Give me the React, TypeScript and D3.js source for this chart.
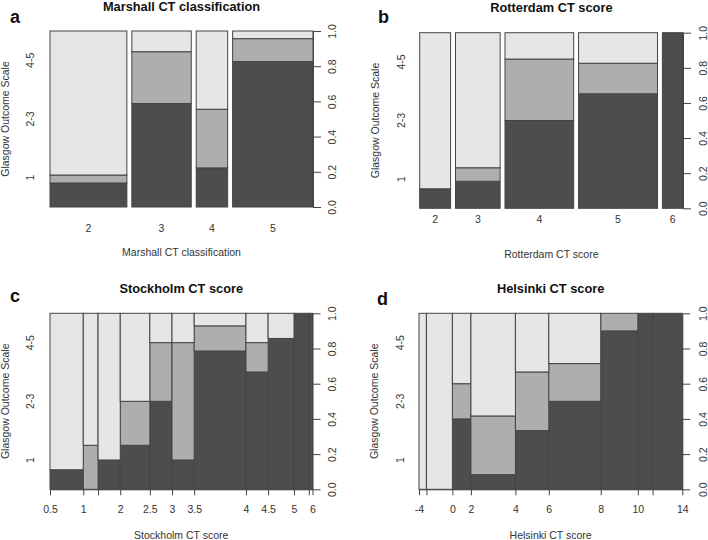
import React, { useEffect, useRef } from "react";
import * as d3 from "d3";

// Glasgow Outcome Scale groups, bottom to top
const gosLevels = ["1", "2-3", "4-5"];
const gosColors = ["#4d4d4d", "#aeaeae", "#e6e6e6"];
const propTicks = [0, 0.2, 0.4, 0.6, 0.8, 1];

// a: Marshall CT classification (factor)
const marshallClasses = ["2", "3", "4", "5"];
const marshallGos1 = [3, 10, 2, 19];
const marshallGos23 = [1, 5, 3, 3];
const marshallGos45 = [18, 2, 4, 1];

// b: Rotterdam CT score (factor)
const rotterdamScores = ["2", "3", "4", "5", "6"];
const rotterdamGos1 = [1, 2, 10, 15, 6];
const rotterdamGos23 = [0, 1, 7, 4, 0];
const rotterdamGos45 = [8, 10, 3, 4, 0];

// c: Stockholm CT score (numeric, binned)
const stockholmBreaks = ["0.5", "1", "", "2", "2.5", "3", "3.5", "4", "4.5", "5", "", "6"];
const stockholmGos1 = [1, 0, 1, 2, 3, 1, 11, 4, 6, 4, 1];
const stockholmGos23 = [0, 1, 0, 2, 2, 4, 2, 1, 0, 0, 0];
const stockholmGos45 = [8, 3, 5, 4, 1, 1, 1, 1, 1, 0, 0];

// d: Helsinki CT score (numeric, binned)
const helsinkiBreaks = ["-4", "", "0", "2", "4", "6", "8", "10", "", "14"];
const helsinkiGos1 = [0, 0, 2, 1, 3, 7, 9, 4, 8];
const helsinkiGos23 = [0, 0, 1, 4, 3, 3, 1, 0, 0];
const helsinkiGos45 = [2, 7, 2, 7, 3, 4, 0, 0, 0];

const FONT = "'Liberation Sans', Arial, Helvetica, sans-serif";
const TEXT = "#333";
const LINE = "#444";

const panels = [
  {
    letter: "a",
    title: "Marshall CT classification",
    xlab: "Marshall CT classification",
    factor: true,
    labels: marshallClasses,
    g1: marshallGos1,
    g23: marshallGos23,
    g45: marshallGos45,
    box: { x0: 50, x1: 313, y0: 31, y1: 207 },
    letterPos: [10, 22.7],
    titleY: 10.5,
    xTickY: 231.5,
    xlabY: 255.7,
    leftLabX: 30.7,
    ylabX: 5,
    rightLabOff: 19,
  },
  {
    letter: "b",
    title: "Rotterdam CT score",
    xlab: "Rotterdam CT score",
    factor: true,
    labels: rotterdamScores,
    g1: rotterdamGos1,
    g23: rotterdamGos23,
    g45: rotterdamGos45,
    box: { x0: 419.7, x1: 683, y0: 32.7, y1: 208.3 },
    letterPos: [378, 23.3],
    titleY: 11.5,
    xTickY: 222.7,
    xlabY: 258,
    leftLabX: 401.3,
    ylabX: 375.7,
    rightLabOff: 20,
  },
  {
    letter: "c",
    title: "Stockholm CT score",
    xlab: "Stockholm CT score",
    factor: false,
    labels: stockholmBreaks,
    g1: stockholmGos1,
    g23: stockholmGos23,
    g45: stockholmGos45,
    box: { x0: 50, x1: 312.5, y0: 313.3, y1: 489.3 },
    letterPos: [10, 301.7],
    titleY: 293,
    xTickY: 512.7,
    xlabY: 538.5,
    leftLabX: 30.7,
    ylabX: 5,
    rightLabOff: 20,
  },
  {
    letter: "d",
    title: "Helsinki CT score",
    xlab: "Helsinki CT score",
    factor: false,
    labels: helsinkiBreaks,
    g1: helsinkiGos1,
    g23: helsinkiGos23,
    g45: helsinkiGos45,
    box: { x0: 419, x1: 682.3, y0: 313.3, y1: 489.3 },
    letterPos: [377, 305],
    titleY: 293,
    xTickY: 512.7,
    xlabY: 538.5,
    leftLabX: 400.7,
    ylabX: 374.7,
    rightLabOff: 21,
  },
];

function drawPanel(svg: any, p: any) {
  const g = svg.append("g");
  const rows = p.g1.map((_: number, i: number) => ({
    "1": p.g1[i],
    "2-3": p.g23[i],
    "4-5": p.g45[i],
  }));
  const totals = rows.map((r: any) => r["1"] + r["2-3"] + r["4-5"]);
  const n = d3.sum(totals);
  const off = p.factor ? 0.02 * n : 0;
  const starts = totals.map((_: number, i: number) => d3.sum(totals.slice(0, i)) + i * off);

  const x = d3
    .scaleLinear()
    .domain([0, n + off * (totals.length - 1)])
    .range([p.box.x0, p.box.x1]);
  const y = d3.scaleLinear().domain([0, 1]).range([p.box.y1, p.box.y0]);

  const series = d3.stack().keys(gosLevels).offset(d3.stackOffsetExpand)(rows);

  series.forEach((s: any, j: number) => {
    g.append("g")
      .selectAll("rect")
      .data(s.map((d: any, i: number) => ({ lo: d[0], hi: d[1], i })))
      .enter()
      .filter((d: any) => d.hi > d.lo)
      .append("rect")
      .attr("x", (d: any) => x(starts[d.i]))
      .attr("width", (d: any) => x(starts[d.i] + totals[d.i]) - x(starts[d.i]))
      .attr("y", (d: any) => y(d.hi))
      .attr("height", (d: any) => y(d.lo) - y(d.hi))
      .attr("fill", gosColors[j])
      .attr("stroke", LINE)
      .attr("stroke-width", 1);
  });

  // x axis
  if (p.factor) {
    g.append("g")
      .selectAll("text")
      .data(p.labels)
      .enter()
      .append("text")
      .attr("x", (_: any, i: number) => x(starts[i] + totals[i] / 2))
      .attr("y", p.xTickY)
      .attr("text-anchor", "middle")
      .attr("font-size", 10.5)
      .attr("fill", TEXT)
      .text((d: string) => d);
  } else {
    const cuts = [0, ...d3.cumsum(totals)];
    const ax = g
      .append("g")
      .attr("transform", `translate(0,${p.box.y1})`)
      .call(
        d3
          .axisBottom(x)
          .tickValues(cuts)
          .tickFormat((_: any, i: number) => p.labels[i])
          .tickSize(6)
          .tickSizeOuter(0)
      );
    ax.selectAll("path, line").attr("stroke", LINE);
    ax.selectAll("text")
      .attr("y", null)
      .attr("dy", null)
      .attr("transform", `translate(0,${p.xTickY - p.box.y1})`)
      .attr("font-size", 10.5)
      .attr("font-family", FONT)
      .attr("fill", TEXT);
  }

  // right proportion axis
  const ay = g
    .append("g")
    .attr("transform", `translate(${p.box.x1},0)`)
    .call(
      d3
        .axisRight(y)
        .tickValues(propTicks)
        .tickFormat(d3.format(".1f"))
        .tickSize(8)
        .tickSizeOuter(0)
    );
  ay.selectAll("path, line").attr("stroke", LINE);
  ay.selectAll("text")
    .attr("x", 0)
    .attr("dy", "0.35em")
    .attr("text-anchor", "middle")
    .attr("transform", `translate(${p.rightLabOff},0) rotate(-90)`)
    .attr("font-size", 10.5)
    .attr("font-family", FONT)
    .attr("fill", TEXT);

  // left category labels, equally spaced
  g.append("g")
    .selectAll("text")
    .data(gosLevels)
    .enter()
    .append("text")
    .attr("transform", (_: any, i: number) => {
      const yy = y((2 * i + 1) / (2 * gosLevels.length));
      return `translate(${p.leftLabX},${yy}) rotate(-90)`;
    })
    .attr("dy", "0.35em")
    .attr("text-anchor", "middle")
    .attr("font-size", 10.5)
    .attr("fill", TEXT)
    .text((d: string) => d);

  // titles
  const cx = (p.box.x0 + p.box.x1) / 2;
  g.append("text")
    .attr("x", cx)
    .attr("y", p.titleY)
    .attr("text-anchor", "middle")
    .attr("font-size", 12.8)
    .attr("font-weight", "bold")
    .attr("fill", "#111")
    .text(p.title);
  g.append("text")
    .attr("x", cx)
    .attr("y", p.xlabY)
    .attr("text-anchor", "middle")
    .attr("font-size", 10.5)
    .attr("fill", TEXT)
    .text(p.xlab);
  g.append("text")
    .attr("transform", `translate(${p.ylabX},${(p.box.y0 + p.box.y1) / 2}) rotate(-90)`)
    .attr("dy", "0.35em")
    .attr("text-anchor", "middle")
    .attr("font-size", 10.5)
    .attr("fill", TEXT)
    .text("Glasgow Outcome Scale");
  g.append("text")
    .attr("x", p.letterPos[0])
    .attr("y", p.letterPos[1])
    .attr("font-size", 18)
    .attr("font-weight", "bold")
    .attr("fill", "#111")
    .text(p.letter);
}

const App = () => {
  const svgRef = useRef(null);

  useEffect(() => {
    const svg = d3.select(svgRef.current);
    svg.selectAll("*").remove();
    svg.append("rect").attr("width", 708).attr("height", 540).attr("fill", "#fff");
    panels.forEach((p) => drawPanel(svg, p));
  }, []);

  return (
    <svg
      ref={svgRef}
      width={708}
      height={540}
      style={{ position: "absolute", left: 0, top: 0, fontFamily: FONT }}
    ></svg>
  );
};

export default App;
